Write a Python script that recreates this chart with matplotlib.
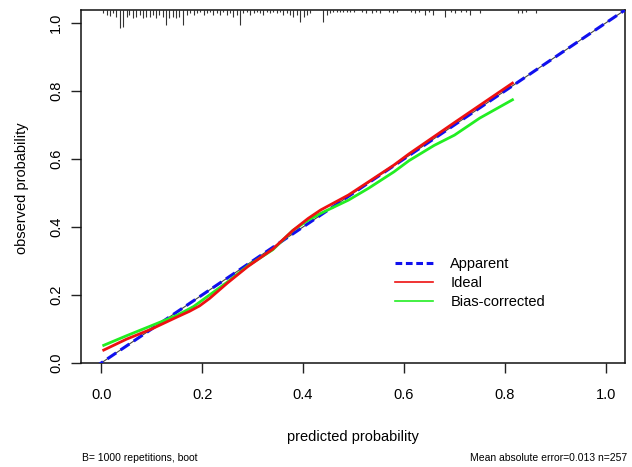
import matplotlib
matplotlib.use("Agg")
import matplotlib.pyplot as plt
from matplotlib.lines import Line2D

plt.rcParams['font.family'] = ['Liberation Sans', 'DejaVu Sans']

# ---- data ----
ideal_x = [-0.04, 1.04]
ideal_y = [-0.04, 1.04]

red_x = [0.005, 0.05, 0.10, 0.15, 0.175, 0.195, 0.215, 0.25, 0.29, 0.34, 0.38, 0.41, 0.435,
         0.49, 0.53, 0.58, 0.61, 0.70, 0.815]
red_y = [0.038, 0.07, 0.10, 0.135, 0.152, 0.168, 0.19, 0.235, 0.283, 0.335, 0.39, 0.425, 0.45,
         0.494, 0.533, 0.582, 0.615, 0.707, 0.823]

green_x = [0.005, 0.05, 0.10, 0.15, 0.183, 0.25, 0.29, 0.34, 0.38, 0.41, 0.435, 0.49,
           0.53, 0.58, 0.61, 0.66, 0.70, 0.75, 0.815]
green_y = [0.052, 0.08, 0.11, 0.14, 0.166, 0.238, 0.285, 0.333, 0.39, 0.42, 0.44, 0.479,
           0.514, 0.562, 0.595, 0.64, 0.67, 0.72, 0.774]

rug_x = [0.003, 0.011, 0.018, 0.023, 0.030, 0.038, 0.044, 0.051, 0.056, 0.063, 0.069, 0.076,
         0.083, 0.089, 0.096, 0.102, 0.109, 0.115, 0.122, 0.129, 0.135, 0.142, 0.149, 0.155,
         0.163, 0.170, 0.176, 0.183, 0.189, 0.196, 0.203, 0.209, 0.216, 0.222, 0.229, 0.236,
         0.242, 0.249, 0.255, 0.262, 0.269, 0.275, 0.282, 0.289, 0.295, 0.302, 0.308, 0.315,
         0.321, 0.328, 0.335, 0.341, 0.348, 0.354, 0.361, 0.368, 0.374, 0.381, 0.388, 0.394,
         0.401, 0.407, 0.414, 0.440, 0.447, 0.453, 0.460, 0.467, 0.473, 0.480, 0.487, 0.493,
         0.500, 0.517, 0.525, 0.537, 0.545, 0.552, 0.570, 0.578, 0.586, 0.614, 0.622, 0.630,
         0.642, 0.650, 0.657, 0.681, 0.693, 0.701, 0.713, 0.723, 0.731, 0.750, 0.826, 0.834,
         0.842, 0.861]
rug_h = [3, 5, 6, 3, 7, 18, 17, 7, 5, 8, 7, 5,
         8, 7, 7, 5, 8, 5, 7, 15, 8, 7, 8, 7,
         15, 5, 3, 5, 3, 2, 5, 3, 2, 5, 3, 5,
         2, 5, 3, 7, 5, 15, 3, 2, 5, 3, 2, 3,
         5, 2, 3, 2, 3, 2, 5, 3, 5, 7, 5, 12,
         7, 5, 3, 12, 5, 3, 2, 2, 2, 2, 2, 2,
         2, 2, 3, 3, 2, 3, 2, 3, 2, 2, 3, 2,
         5, 2, 5, 7, 2, 3, 2, 2, 5, 3, 3, 3,
         2, 3]

x_ticks = [0.0, 0.2, 0.4, 0.6, 0.8, 1.0]
y_ticks = [0.0, 0.2, 0.4, 0.6, 0.8, 1.0]
legend_labels = ["Apparent", "Ideal", "Bias-corrected"]

# ---- figure ----
W, H = 632, 467
fig = plt.figure(figsize=(W / 100, H / 100), dpi=100)
L, R, T, B = 81, 625, 10, 363
ax = fig.add_axes([L / W, 1 - B / H, (R - L) / W, (B - T) / H])
ax.set_xlim(-0.04, 1.038)
ax.set_ylim(0.0, 1.038)

# rug at top
ymax = 1.038
px_per_unit = (B - T) / 1.038
for xv, hv in zip(rug_x, rug_h):
    ax.plot([xv, xv], [ymax, ymax - hv / px_per_unit], color='#333333', lw=0.8,
            solid_capstyle='butt', zorder=2)

ax.plot(ideal_x, ideal_y, color='#444444', lw=0.8, zorder=3)
ax.plot(ideal_x, ideal_y, color='#1010ee', lw=2.2, dashes=(3.5, 1.7), zorder=4)
ax.plot(red_x, red_y, color='#ee1111', lw=2.0, zorder=5, solid_joinstyle='round')
ax.plot(green_x, green_y, color='#22ee22', lw=2.0, zorder=4.5, solid_joinstyle='round')

ax.set_xticks(x_ticks)
ax.set_xticklabels([f"{v:.1f}" for v in x_ticks])
ax.set_yticks(y_ticks)
ax.set_yticklabels([f"{v:.1f}" for v in y_ticks])
ax.tick_params(axis='both', direction='out', length=7, width=1, labelsize=10.5, color='#222222')
ax.tick_params(axis='x', pad=11)
ax.tick_params(axis='y', pad=6, labelrotation=90)
for lab in ax.get_yticklabels():
    lab.set_va('center')
for s in ax.spines.values():
    s.set_linewidth(1.1)
    s.set_color('#111111')

fig.text((L + R) / 2 / W, 1 - 437 / H, "predicted probability", ha='center', va='center', fontsize=10.5)
fig.text(22 / W, 1 - 188 / H, "observed probability", ha='center', va='center', rotation=90, fontsize=10.5)
fig.text(82 / W, 1 - 458 / H, "B= 1000 repetitions, boot", ha='left', va='center', fontsize=7.5)
fig.text(627 / W, 1 - 458 / H, "Mean absolute error=0.013 n=257", ha='right', va='center', fontsize=7.5)

handles = [Line2D([], [], color='#1010ee', lw=2.2, dashes=(2.2, 1.2)),
           Line2D([], [], color='#ee1111', lw=1.2),
           Line2D([], [], color='#22ee22', lw=1.2)]
ax.legend(handles, legend_labels, loc='center left', bbox_to_anchor=((395 - L) / (R - L), (B - 283) / (B - T)),
          frameon=False, fontsize=10.5, handlelength=2.6, handletextpad=1.2, labelspacing=0.32,
          borderpad=0, borderaxespad=0)

fig.savefig("out.png", dpi=100)
